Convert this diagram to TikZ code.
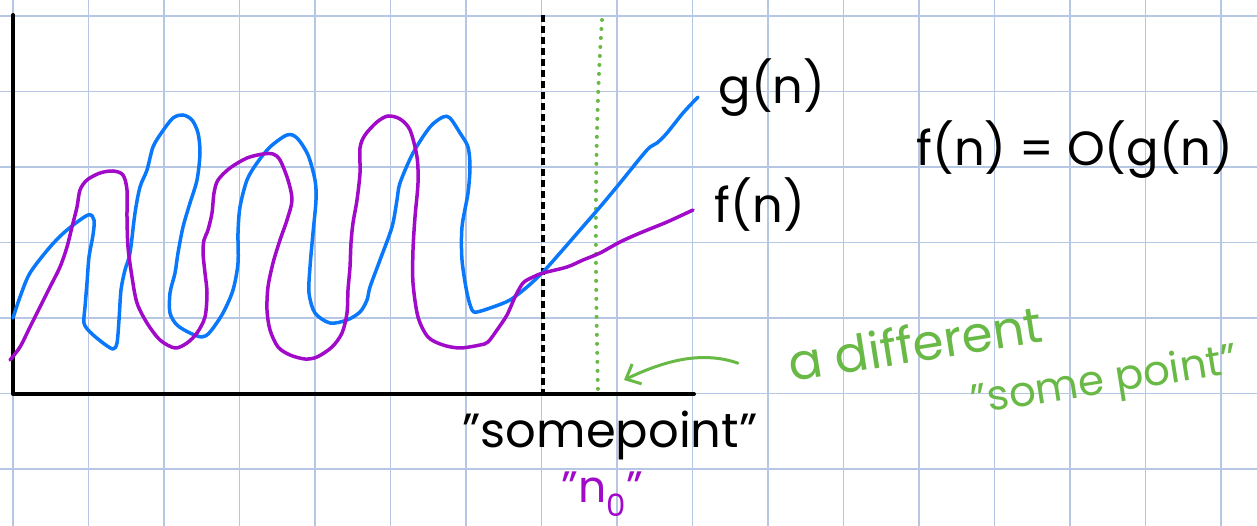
\documentclass[tikz,border=0pt]{standalone}
\usepackage{fontspec}
\setmainfont{Poppins}
\usetikzlibrary{arrows.meta}
\definecolor{gridblue}{RGB}{182,199,228}
\definecolor{gblue}{RGB}{10,120,250}
\definecolor{fpurple}{RGB}{160,10,200}
\definecolor{hgreen}{RGB}{105,185,70}
\begin{document}
\begin{tikzpicture}[x=1pt, y=-1pt, line cap=round, line join=round,
    curve/.style={line width=3.5pt},
    hand/.style={font=\fontsize{48}{52}\selectfont, inner sep=0pt}]
    \useasboundingbox (0,0) rectangle (1257,526);
    \fill[white] (0,0) rectangle (1257,526);
    \foreach \k in {0,...,16} \draw[gridblue, line width=1.2pt] ({13+75.5*\k},0) -- ({13+75.5*\k},526);
    \foreach \k in {0,...,6} \draw[gridblue, line width=1.2pt] (0,{16+75.5*\k}) -- (1257,{16+75.5*\k});
    \draw[line width=4pt] (13,15) -- (13,394) -- (694,394);
    \draw[line width=3.5pt, line cap=butt, dash pattern=on 7pt off 4pt] (543,15) -- (543,394);
    \draw[hgreen, line width=4pt, dash pattern=on 0pt off 9pt] (602,20) .. controls (593,150) and (596,300) .. (598,392);
    \draw[curve, gblue] plot[smooth] coordinates {(13,318)(20,297)(30,273)(50,247)(67,230)(88,215)(94,220)(93,235)(89,257)(87,283)(85,307)(84,323)(90,332)(103,343)(113,349)(117,343)(119,320)(121,290)(125,270)(130,253)(135,213)(140,187)(147,170)(153,147)(162,132)(173,118)(183,115)(192,120)(198,133)(200,153)(197,180)(190,203)(183,227)(178,253)(175,273)(170,293)(170,313)(177,325)(190,333)(202,337)(210,332)(223,313)(233,290)(238,263)(238,233)(240,207)(247,180)(257,163)(270,147)(287,135)(297,138)(308,155)(315,180)(316,200)(313,233)(310,267)(309,293)(315,313)(330,323)(347,320)(360,312)(367,300)(370,287)(380,260)(392,227)(397,200)(400,183)(413,153)(430,127)(443,117)(450,118)(460,133)(468,147)(470,167)(468,193)(462,227)(462,260)(467,293)(472,310)(477,312)(493,307)(510,300)(527,287)(543,272)(560,253)(580,230)(600,207)(620,183)(647,150)(657,143)(667,133)(683,113)(698,97)};
    \draw[curve, fpurple] plot[smooth] coordinates {(10,360)(20,347)(30,327)(40,307)(50,287)(60,267)(67,247)(72,227)(77,207)(80,190)(87,180)(100,173)(113,171)(123,175)(127,190)(127,217)(128,247)(132,277)(137,303)(147,323)(160,340)(175,348)(187,343)(197,333)(205,317)(207,293)(205,273)(203,253)(204,240)(208,230)(212,213)(214,193)(218,180)(230,168)(247,158)(263,154)(273,154)(280,160)(288,180)(292,200)(287,220)(280,240)(273,263)(268,287)(267,310)(270,330)(278,347)(290,355)(305,359)(317,357)(332,347)(342,333)(347,313)(348,290)(350,267)(351,243)(353,223)(357,200)(360,173)(360,148)(365,135)(377,122)(388,116)(400,119)(410,130)(417,157)(418,183)(415,217)(413,250)(413,283)(418,317)(428,337)(443,345)(460,348)(480,345)(488,342)(497,330)(507,315)(515,297)(523,283)(533,277)(543,273)(567,267)(583,260)(600,253)(620,242)(640,233)(667,222)(693,210)};
    \node[hand] (g) at (772,88) {g(n)};
    \node[hand] (f) at (760,205) {f(n)};
    \node[hand] (bigo) at (1075,150) {f(n) = O(g(n)};
    \node[hand] (some) at (610,435) {"somepoint"};
    \node[hand, fpurple, font=\fontsize{44}{48}\selectfont] (nzero) at (602,494) {"n\textsubscript{0}"};
    \node[hand, hgreen, font=\fontsize{50}{54}\selectfont, rotate=9] (diff) at (915,343) {a different};
    \node[hand, hgreen, font=\fontsize{42}{46}\selectfont, rotate=9] (other) at (1105,383) {"some point"};
    \coordinate (pt2) at (624,380);
    \draw[hgreen, line width=3pt, -{Straight Barb[length=12pt, width=22pt]}] ([xshift=-50pt]diff.west) .. controls (700,350) and (662,362) .. (pt2);
\end{tikzpicture}
\end{document}
